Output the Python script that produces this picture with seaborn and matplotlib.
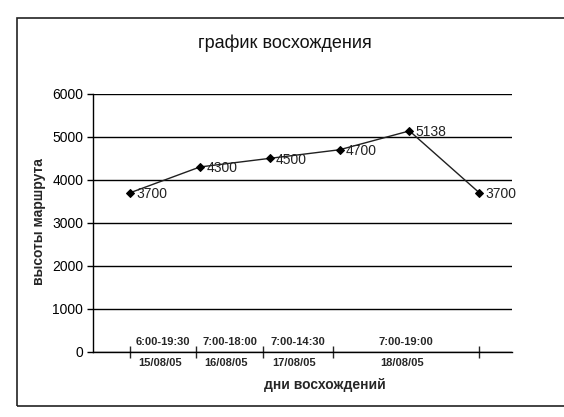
import matplotlib
matplotlib.use("Agg")
import matplotlib.pyplot as plt
import pandas as pd
import seaborn as sns
from matplotlib.patches import Rectangle

# climb heights per point (m)
heights = [3700, 4300, 4500, 4700, 5138, 3700]
time_ranges = ["6:00-19:30", "7:00-18:00", "7:00-14:30", "7:00-19:00"]
dates = ["15/08/05", "16/08/05", "17/08/05", "18/08/05"]
y_ticks = [0, 1000, 2000, 3000, 4000, 5000, 6000]

df = pd.DataFrame({"point": range(len(heights)), "height": heights})

sns.set_theme(style="white")
plt.rcParams["font.family"] = ["Liberation Sans", "DejaVu Sans"]

fig = plt.figure(figsize=(5.64, 4.17), dpi=100, facecolor="white")
ax = fig.add_axes([0.165, 0.156, 0.743, 0.619])

sns.lineplot(data=df, x="point", y="height", ax=ax, color="#202020",
             linewidth=1.0, marker="D", markersize=4.5,
             markerfacecolor="black", markeredgecolor="black")

for x, h in zip(df["point"], df["height"]):
    ax.annotate(str(h), (x, h), xytext=(4.5, -1), textcoords="offset points",
                ha="left", va="center", fontsize=10, color="#222222")

ax.set_xlim(-0.53, 5.47)
ax.set_ylim(0, 6000)
ax.set_yticks(y_ticks)
ax.tick_params(axis="y", direction="out", length=4, width=1, pad=3,
               labelsize=10, left=True, colors="black")
ax.grid(axis="y", color="black", linewidth=1.0)
ax.grid(axis="x", visible=False)

# day boundaries on the category axis
bounds = [0, 0.95, 1.9, 2.9, 5.0]
ax.set_xticks(bounds)
ax.set_xticklabels([""] * len(bounds))
ax.tick_params(axis="x", direction="inout", length=9, width=1, bottom=True)

mids = [(a + b) / 2 for a, b in zip(bounds[:-1], bounds[1:])]
for m, t, d in zip(mids, time_ranges, dates):
    ax.annotate(t, (m, 0), xycoords=("data", "axes fraction"), xytext=(0, 3.5),
                textcoords="offset points", ha="center", va="bottom",
                fontsize=8, fontweight="bold")
    ax.annotate(d, (m - 0.05, 0), xycoords=("data", "axes fraction"), xytext=(0, -4),
                textcoords="offset points", ha="center", va="top",
                fontsize=8, fontweight="bold")

for side in ["top", "right"]:
    ax.spines[side].set_visible(False)
for side in ["left", "bottom"]:
    ax.spines[side].set_color("black")
    ax.spines[side].set_linewidth(1.0)

ax.set_xlabel("")
ax.set_ylabel("")
fig.text(0.576, 0.077, "дни восхождений", ha="center", va="center",
         fontsize=10, fontweight="bold")
fig.text(0.07, 0.468, "высоты маршрута", ha="center", va="center",
         rotation=90, fontsize=10, fontweight="bold")
fig.text(0.505, 0.897, "график восхождения", ha="center", va="center",
         fontsize=13, fontweight="medium", color="#111111")

fig.add_artist(Rectangle((17 / 564, 1 - 406 / 417), 0.99, (406 - 18) / 417,
                         transform=fig.transFigure, fill=False,
                         edgecolor="#222222", linewidth=1.2))

fig.savefig("out.png", dpi=100, facecolor="white")
